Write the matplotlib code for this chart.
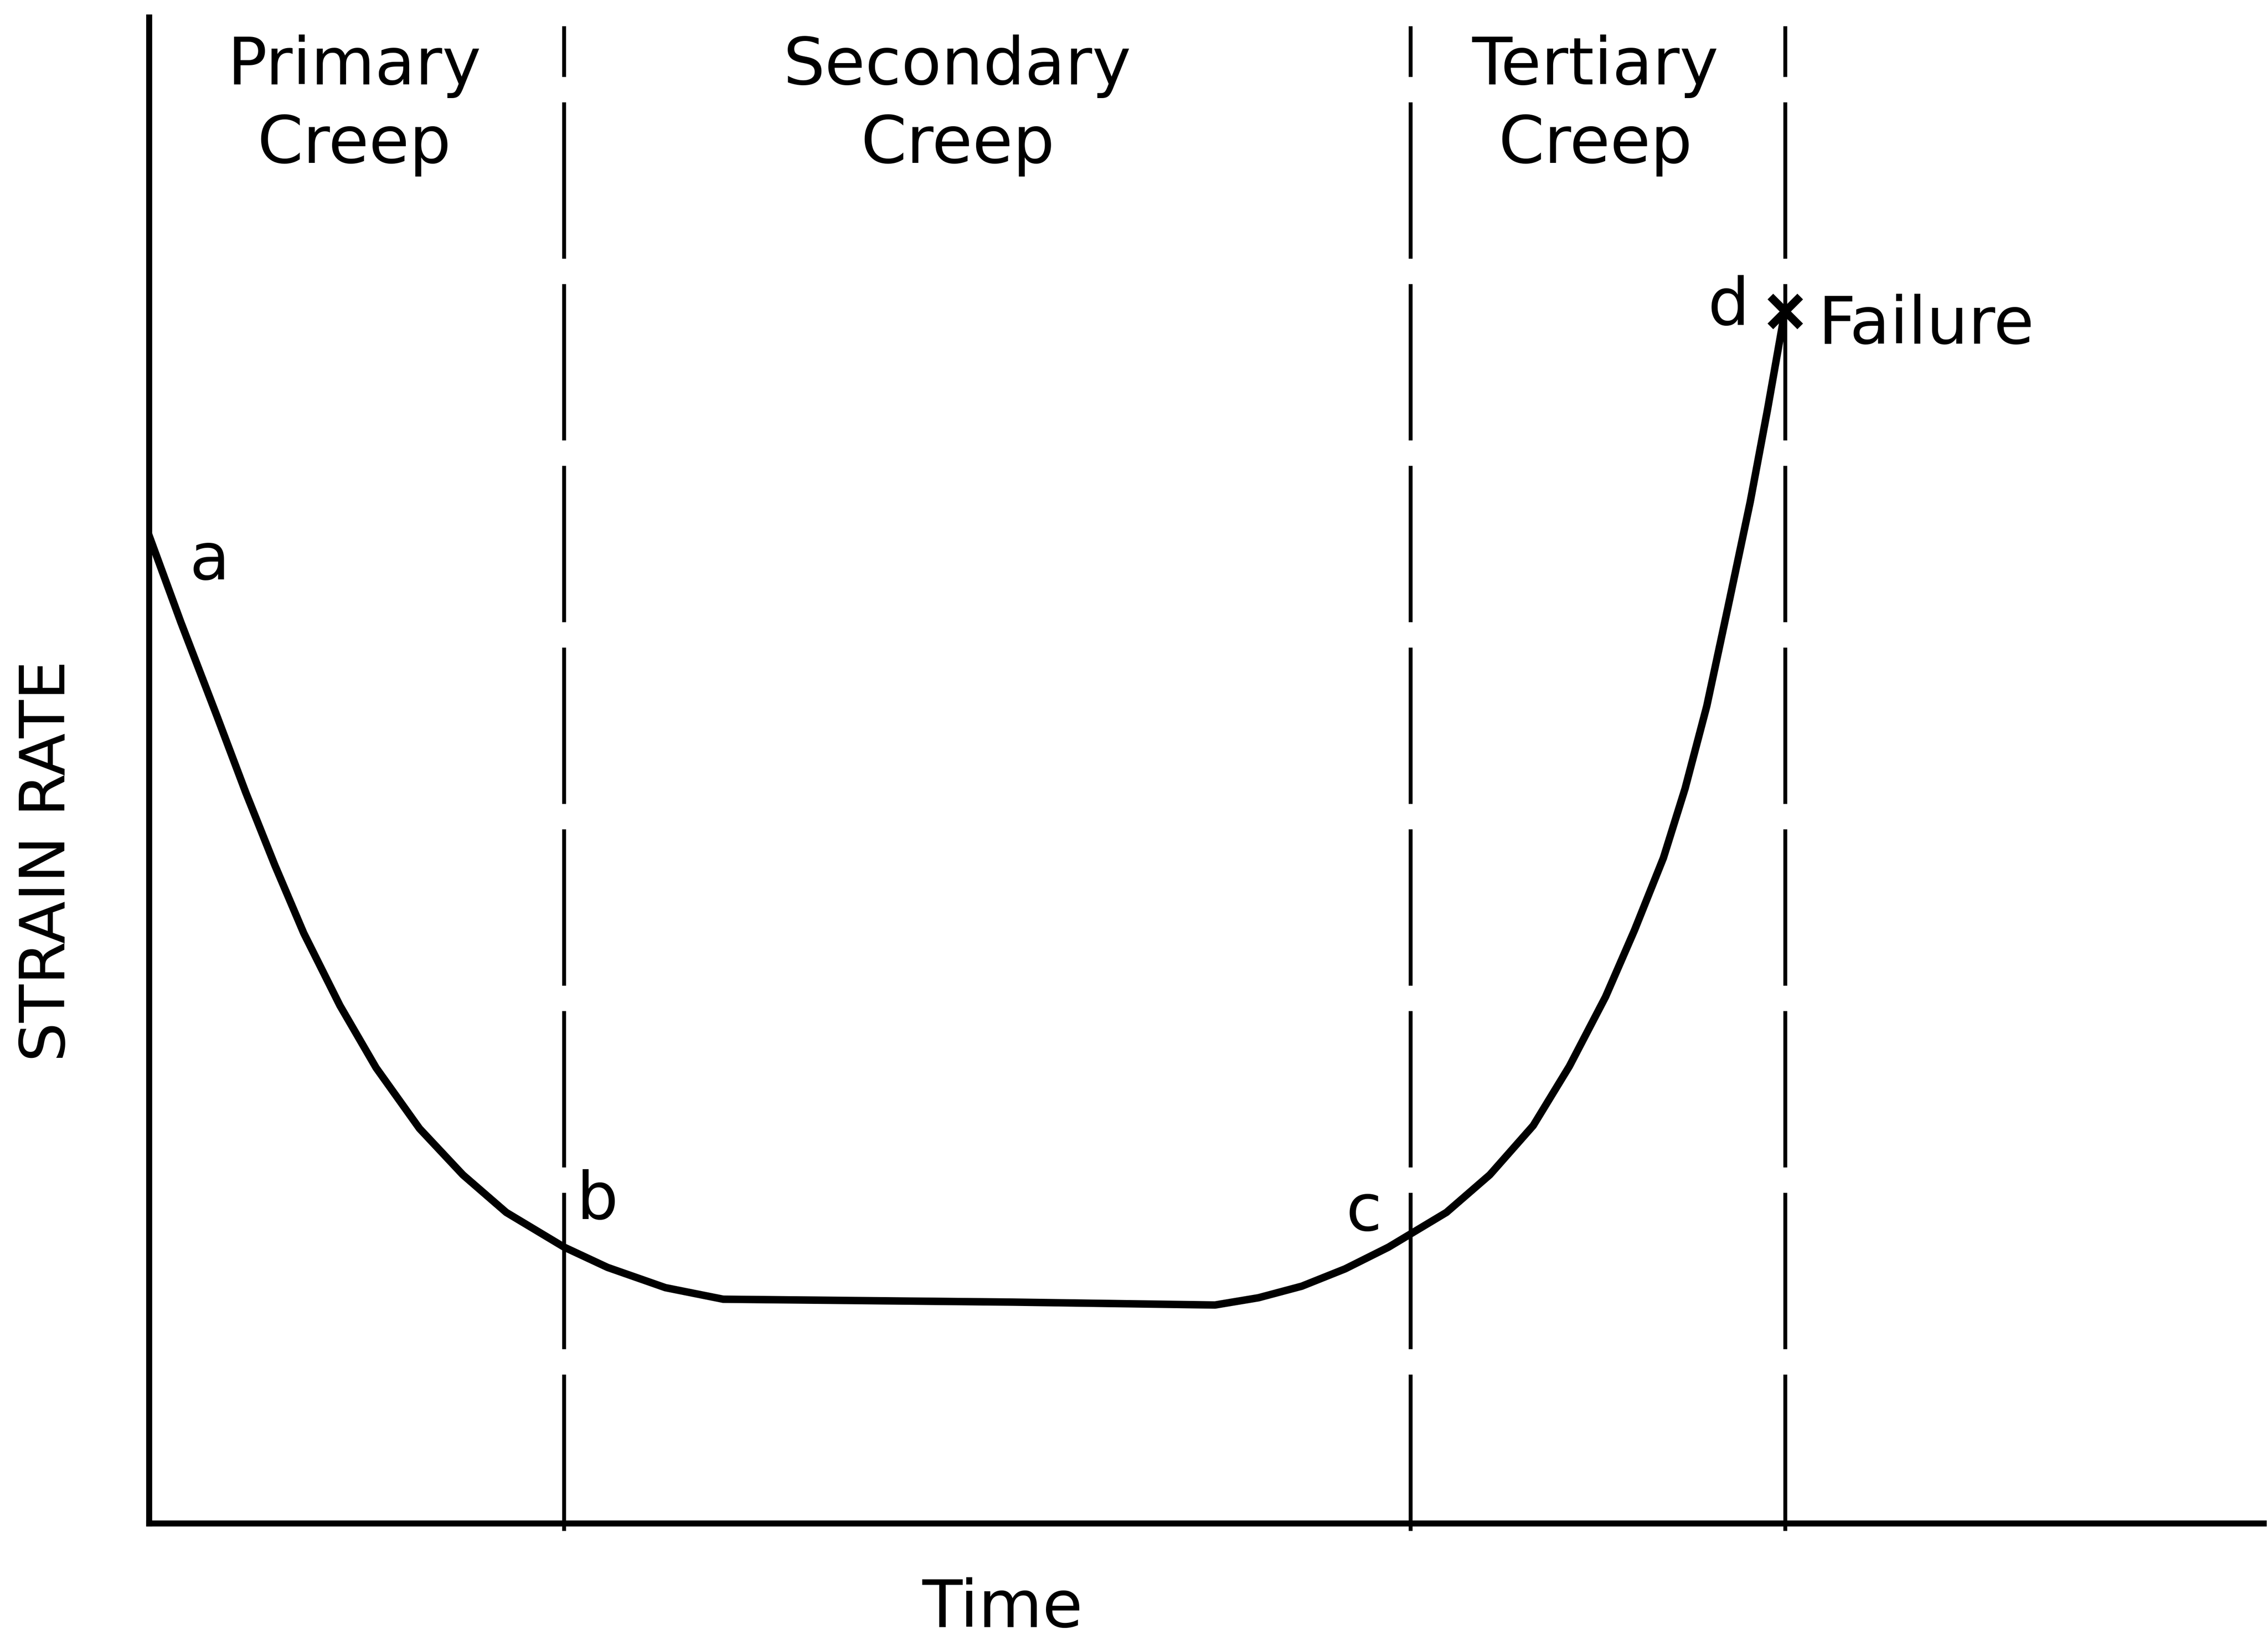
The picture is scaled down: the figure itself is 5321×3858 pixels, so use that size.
import numpy as np
import matplotlib.pyplot as plt

# curve (time, strain rate) in arbitrary drawing units
tiempo = [0, 22, 47, 67, 87, 107, 132, 157, 187, 217, 247, 287, 317, 357, 397,
          497, 597, 737, 767, 797, 827, 857, 872, 897, 927, 957, 982, 1007,
          1027, 1047, 1062, 1077, 1092, 1107, 1119, 1131]
tasa = [683, 623, 558, 505, 455, 408, 358, 315, 273, 241, 215, 191, 177, 163, 155,
        154, 153, 151, 156, 164, 176, 191, 200, 215, 241, 275, 316, 364,
        410, 460, 508, 565, 635, 706, 770, 838]

# region boundaries (b, c, d) and labels
limites = [287, 872, 1131]
regiones = ['Primary\nCreep', 'Secondary\nCreep', 'Tertiary\nCreep']
centros_region = [142, 559, 1000]
puntos = ['a', 'b', 'c', 'd']
pos_puntos = [(42, 665), (310, 223), (840, 215), (1092, 841)]

fig = plt.figure(figsize=(5321 / 300, 3858 / 300), dpi=300)
ax = fig.add_axes([103 / 1568, 1 - 1053 / 1137, 1462 / 1568, 1041 / 1137])
ax.set_xlim(0, 1462)
ax.set_ylim(0, 1041)
ax.set_xticks([])
ax.set_yticks([])
for s in ['top', 'right']:
    ax.spines[s].set_visible(False)
for s in ['left', 'bottom']:
    ax.spines[s].set_linewidth(3.4)
ax.patch.set_alpha(0)

# divisiones con linea discontinua
for xl in limites:
    ax.plot([xl, xl], [-5, 1035], color='black', lw=2.2,
            linestyle=(0, (40, 6.5)), clip_on=False)

ax.plot(tiempo, tasa, color='black', lw=4.2, solid_joinstyle='round')
ax.plot([tiempo[-1]], [tasa[-1]], marker='x', color='black', ms=17, mew=4.5)

fs = 37
for txt, xc in zip(regiones, centros_region):
    ax.text(xc, 980, txt, ha='center', va='center', fontsize=fs, linespacing=1.3)

for lbl, (xp, yp) in zip(puntos, pos_puntos):
    ax.text(xp, yp, lbl, ha='center', va='center', fontsize=fs)

ax.text(1154, 828, 'Failure', ha='left', va='center', fontsize=fs)

fig.text(33 / 1568, 1 - 595 / 1137, 'STRAIN RATE', rotation=90,
         ha='center', va='center', fontsize=35)
fig.text(693 / 1568, 1 - 1112 / 1137, 'Time', ha='center', va='center', fontsize=fs)

fig.savefig('out.png', dpi=300, facecolor='white')
